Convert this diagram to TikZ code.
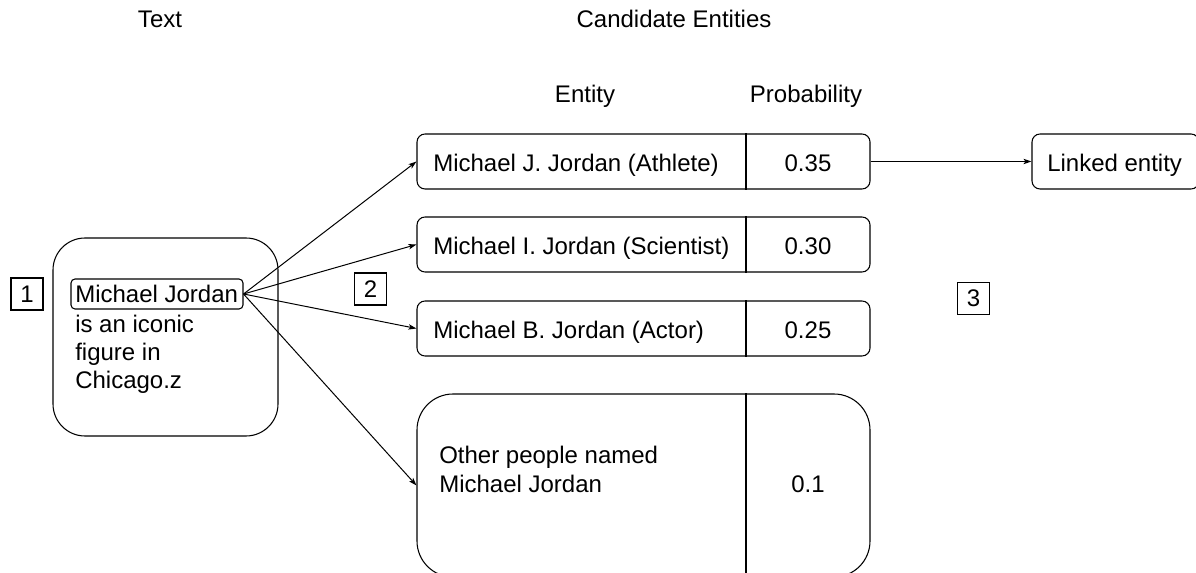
\documentclass[tikz,border=0pt]{standalone}
\usepackage{fontspec}
\setmainfont{Liberation Sans}
\usetikzlibrary{fit,arrows.meta}
\begin{document}
\begin{tikzpicture}[x=0.75pt,y=-0.75pt,
  every node/.style={font=\fontsize{18pt}{21pt}\selectfont},
  txt/.style={inner sep=0pt},
  frame/.style={draw, line width=0.8pt, inner sep=0pt},
  numbox/.style={draw, line width=0.8pt, minimum width=24pt, minimum height=24pt, inner sep=0pt},
  link/.style={line width=0.75pt, -{Stealth[length=6pt,width=4pt,inset=1.5pt]}}]
\useasboundingbox (0,0) rectangle (1196,573);
\clip (0,0) rectangle (1196,573);

% headers
\node[txt, anchor=base] (hText) at (160,28) {Text};
\node[txt, anchor=base] (hCand) at (674,28) {Candidate Entities};
\node[txt, anchor=base] (hEnt) at (585,103) {Entity};
\node[txt, anchor=base] (hProb) at (806,103) {Probability};

% left text box
\node[frame, rounded corners=24pt, fit={(53,238) (278,436)}] (tbox) {};
\node[frame, rounded corners=3pt, fit={(71,279) (243,309)}] (mj) {};
\node[txt, anchor=base west] (l1) at (75,303) {Michael Jordan};
\node[txt, anchor=base west] (l2) at (75,333) {is an iconic};
\node[txt, anchor=base west] (l3) at (75,361) {figure in};
\node[txt, anchor=base west] (l4) at (75,389) {Chicago.z};

% number boxes
\node[numbox] (n1) at (27,294) {1};
\node[numbox] (n2) at (370.5,289) {2};
\node[numbox] (n3) at (973.5,298.5) {3};

% candidate rows
\node[frame, rounded corners=6pt, fit={(417,134) (870,189)}] (r1) {};
\node[frame, rounded corners=6pt, fit={(417,217) (870,272)}] (r2) {};
\node[frame, rounded corners=6pt, fit={(417,301) (870,356)}] (r3) {};
\node[frame, rounded corners=27pt, fit={(417,394) (870,577)}] (r4) {};
\draw[line width=0.8pt] (r1.north -| 746,0) -- (r1.south -| 746,0);
\draw[line width=0.8pt] (r2.north -| 746,0) -- (r2.south -| 746,0);
\draw[line width=0.8pt] (r3.north -| 746,0) -- (r3.south -| 746,0);
\draw[line width=0.8pt] (r4.north -| 746,0) -- (r4.south -| 746,0);

\node[txt, anchor=base west] (e1) at (433,172) {Michael J. Jordan (Athlete)};
\node[txt, anchor=base west] (e2) at (433,255) {Michael I. Jordan (Scientist)};
\node[txt, anchor=base west] (e3) at (433,339) {Michael B. Jordan (Actor)};
\node[txt, anchor=base west, align=left] (e4a) at (439,464) {Other people named};
\node[txt, anchor=base west, align=left] (e4b) at (439,493) {Michael Jordan};
\node[txt, anchor=base] (p1) at (808,172) {0.35};
\node[txt, anchor=base] (p2) at (808,255) {0.30};
\node[txt, anchor=base] (p3) at (808,339) {0.25};
\node[txt, anchor=base] (p4) at (808,493) {0.1};

% linked entity
\node[frame, rounded corners=6pt, fit={(1032,134) (1199,189)}] (le) {};
\node[txt, anchor=base west] (let) at (1047,172) {Linked entity};

% connectors
\draw[link] (mj.east) -- (r1.west);
\draw[link] (mj.east) -- (r2.west);
\draw[link] (mj.east) -- (r3.west);
\draw[link] (mj.east) -- (r4.west);
\draw[link] (r1.east) -- (le.west);
\end{tikzpicture}
\end{document}
